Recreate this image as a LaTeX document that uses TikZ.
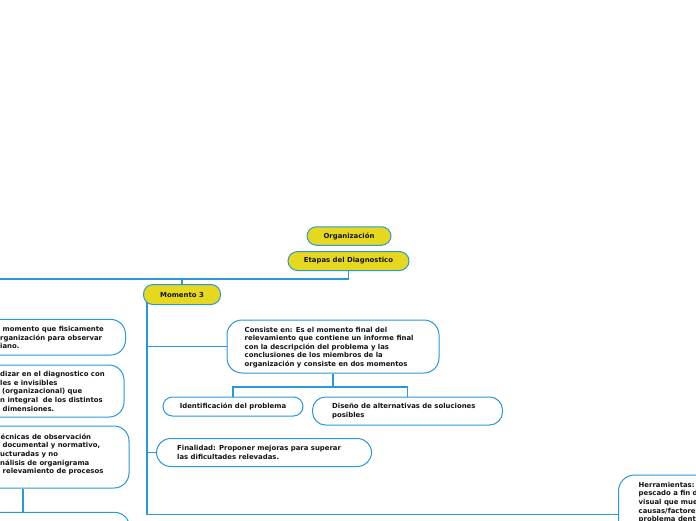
\documentclass[tikz,border=0pt]{standalone}
\usepackage{fontspec}
\setmainfont{DejaVu Sans}
\definecolor{mmblue}{RGB}{41,152,219}
\definecolor{mmyellow}{RGB}{230,216,30}
\definecolor{mmtext}{RGB}{20,20,20}
\newcommand\tstrut{\rule{0pt}{6.5pt}}
\begin{document}
\begin{tikzpicture}[x=1pt,y=-1pt,
  box/.style={draw=mmblue, line width=1pt, fill=white, rectangle, rounded corners=#1, inner sep=0pt},
  box/.default=14pt,
  ybox/.style={draw=mmblue, line width=1pt, fill=mmyellow, rectangle, rounded corners=9.5pt, inner sep=0pt,
    font=\fontsize{6.9}{8.6}\selectfont\bfseries, text=mmtext},
  wbox/.style={box=9.5pt, font=\fontsize{6.9}{8.6}\selectfont\bfseries, text=mmtext},
  txt/.style={inner sep=0pt, align=left, font=\fontsize{6.9}{8.6}\selectfont\bfseries, text=mmtext},
  link/.style={draw=mmblue, line width=1.5pt},
]
\useasboundingbox (0,0) rectangle (696,520);
\clip (0,0) rectangle (696,520);
\fill[white] (0,0) rectangle (696,520);

% top nodes
\node[ybox, minimum width=84pt, minimum height=18.5pt] (org) at (349,236) {Organización};
\node[ybox, minimum width=121pt, minimum height=19pt] (etapas) at (348.5,261) {Etapas del Diagnostico};
\node[ybox, minimum width=77pt, minimum height=20pt] (m3) at (182,294.5) {Momento 3};

% right branch
\node[box=15pt, minimum width=212pt, minimum height=53pt] (consiste) at (333,346.5) {};
\node[txt, anchor=west] (consisteT) at ([xshift=18pt,yshift=-1pt]consiste.west)
  {Consiste en: Es el momento final del\\relevamiento que contiene un informe final\\con la descripción del problema y las\\conclusiones de los miembros de la\\organización y consiste en dos momentos};
\node[wbox, minimum width=140pt, minimum height=19pt] (ident) at (233,406.5) {Identificación del problema};
\node[box=13pt, minimum width=190pt, minimum height=28pt] (diseno) at (407.5,411) {};
\node[txt, anchor=west] (disenoT) at ([xshift=20pt]diseno.west) {Diseño de alternativas de soluciones\\posibles};
\node[box=14pt, minimum width=215pt, minimum height=28pt] (final) at (264,452.5) {};
\node[txt, anchor=west] (finalT) at ([xshift=21pt]final.west) {Finalidad: Proponer mejoras para superar\\las dificultades relevadas.};
\node[box=16pt, minimum width=150pt, minimum height=90pt] (herr) at (693.5,520) {};
\node[txt, anchor=north west] (herrT) at (638.5,480.5)
  {\tstrut Herramientas:\\pescado a fin de\\visual que muestra\\causas/factores\\problema dentro};

% left branch (clipped)
\node[box=15pt, minimum width=200pt, minimum height=35.7pt] (boxA) at (25.5,337.2) {};
\node[txt, anchor=west] (boxAT) at (0,337.5)
  {\hspace*{2.5pt}momento que fisicamente\\rganización para observar\\iano.};
\node[box=15pt, minimum width=200pt, minimum height=52pt] (boxB) at (24,391) {};
\node[txt, anchor=west] (boxBT) at (0,391.3)
  {dizar en el diagnostico con\\les e invisibles\\\hspace*{2pt}(organizacional) que\\n integral\ \ de los distintos\\\hspace*{2.5pt}dimensiones.};
\node[box=15pt, minimum width=200pt, minimum height=62pt] (boxC) at (29,457) {};
\node[txt, anchor=west] (boxCT) at (0,454.5)
  {\hspace*{0.5pt}écnicas de observación\\\hspace*{2.5pt}documental y normativo,\\ucturadas y no\\nálisis de organigrama\\\hspace*{2.5pt}relevamiento de procesos};
\node[box=15pt, minimum width=200pt, minimum height=60pt] (boxD) at (29.5,542.3) {};

% connectors
\coordinate (leftEnd) at (-5,279);
\coordinate (trunkTop) at (147,302);
\coordinate (trunkEnd) at (147,514.5);
\coordinate (cx) at (23,0);
\coordinate (cj) at (333,387);

\draw[link] (etapas.south) |- (leftEnd);
\draw[link] (m3.north) -- (m3.north |- leftEnd);
\draw[link] (trunkTop) -- (trunkEnd) -- (trunkEnd -| herr.west);
\draw[link] (consiste.west) -- (consiste.west -| trunkTop);
\draw[link] (final.west) -- (final.west -| trunkTop);
\draw[link] (consiste.south) -- (cj);
\draw[link] (ident.north) |- (cj) -| (diseno.north);
\draw[link] (boxC.south -| cx) -- (boxD.north -| cx);
\end{tikzpicture}
\end{document}
